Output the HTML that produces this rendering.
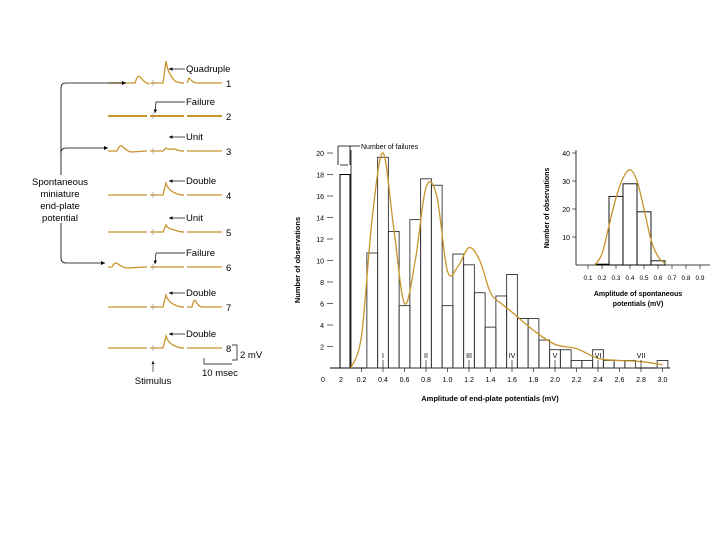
<!DOCTYPE html>
<html><head><meta charset="utf-8"><style>
body{margin:0;background:#fff}
svg{display:block;font-family:"Liberation Sans",sans-serif}
</style></head><body>
<svg width="720" height="540" viewBox="0 0 720 540">
<defs><marker id="ar" viewBox="0 0 6 6" refX="6" refY="3" markerWidth="5" markerHeight="5" orient="auto"><path d="M0,0 L6,3 L0,6 z" fill="#000"/></marker></defs>
<g id="traces"></g>
<g id="main"></g>
<g id="inset"></g>
</svg>
<script>
// main histogram data
const binStarts=[0.25,0.35,0.45,0.55,0.65,0.75,0.85,0.95,1.05,1.15,1.25,1.35,1.45,1.55,1.65,1.75,1.85,1.95,2.05,2.15,2.25,2.35,2.45,2.55,2.65,2.75,2.85,2.95];
const binCounts=[10.7,19.6,12.7,5.8,13.8,17.6,17,5.8,10.6,9.6,7,3.8,6.7,8.7,4.6,4.6,2.6,1.7,1.7,0.7,0.7,1.7,0.7,0.7,0.7,0,0,0.7];
const failures=18;
const curveX=[0.1,0.2,0.3,0.4,0.5,0.6,0.7,0.8,0.9,1.0,1.1,1.2,1.3,1.4,1.5,1.6,1.8,2.0,2.2,2.4,2.6,2.8,3.0];
const curveY=[0,3,14,20,13,6,10,16.8,16,9,9.5,11.2,10,7,6,5.2,3.5,2.2,1.8,0.9,0.7,0.6,0.3];
const xTickVals=[0.2,0.4,0.6,0.8,1.0,1.2,1.4,1.6,1.8,2.0,2.2,2.4,2.6,2.8,3.0];
const yTickVals=[2,4,6,8,10,12,14,16,18,20];
const romans=["I","II","III","IV","V","VI","VII"];
// inset data
const inBinStarts=[0.15,0.25,0.35,0.45,0.55];
const inCounts=[0.3,24.5,29,19,1.5];
const inCurveX=[0.15,0.2,0.25,0.3,0.35,0.4,0.45,0.5,0.55,0.6,0.65];
const inCurveY=[0,4,14,24,31,34,30,20,9,3,0.5];
const inXTicks=[0.1,0.2,0.3,0.4,0.5,0.6,0.7,0.8,0.9];
const inYTicks=[10,20,30,40];

const NS="http://www.w3.org/2000/svg";
function mk(parent,tag,attrs,text){const e=document.createElementNS(NS,tag);for(const k in attrs)e.setAttribute(k,attrs[k]);if(text!==undefined)e.textContent=text;parent.appendChild(e);return e;}
const gold="#c8952c";
function smooth(pts){let d="M"+pts[0][0]+","+pts[0][1];for(let i=0;i<pts.length-1;i++){const p0=pts[i-1]||pts[i],p1=pts[i],p2=pts[i+1],p3=pts[i+2]||p2;d+=" C"+(p1[0]+(p2[0]-p0[0])/6)+","+(p1[1]+(p2[1]-p0[1])/6)+" "+(p2[0]-(p3[0]-p1[0])/6)+","+(p2[1]-(p3[1]-p1[1])/6)+" "+p2[0]+","+p2[1];}return d;}

// ---- main
const M=document.getElementById('main');
const X=v=>340+v*107.5, Y=v=>368-v*10.75;
let e;
e=mk(M,'line',{x1:330,y1:368,x2:670,y2:368,stroke:'#000','stroke-width':1});


e=mk(M,'line',{x1:351,y1:150,x2:351,y2:368,stroke:'#000','stroke-width':0.8});


yTickVals.forEach(v=>{
 e=mk(M,'text',{x:324,y:Y(v)+3,'font-size':7,'text-anchor':'end'},String(v));
 
 
 mk(M,'line',{x1:327,y1:Y(v),x2:333,y2:Y(v),stroke:'#000','stroke-width':0.6});
});
e=mk(M,'text',{x:323,y:382,'font-size':7,'text-anchor':'middle'},'0');


e=mk(M,'text',{x:341,y:382,'font-size':7,'text-anchor':'middle'},'2');


xTickVals.forEach(v=>{
 mk(M,'line',{x1:X(v),y1:368,x2:X(v),y2:372,stroke:'#000','stroke-width':0.6});
 e=mk(M,'text',{x:X(v),y:382,'font-size':7,'text-anchor':'middle'},v.toFixed(1));
 
 
});
e=mk(M,'rect',{x:X(0),y:Y(failures),width:10,height:368-Y(failures),fill:'none',stroke:'#000','stroke-width':1});


mk(M,'path',{d:'M338,146 L338,165 M350,146 L350,165 M338,146 L360,146 M340,165 L348,165',stroke:'#000','stroke-width':0.8,fill:'none'});
e=mk(M,'text',{x:361,y:149,'font-size':7},'Number of failures');


binStarts.forEach((b,i)=>{
 if(binCounts[i]<=0)return;
 e=mk(M,'rect',{x:X(b),y:Y(binCounts[i]),width:10.75,height:368-Y(binCounts[i]),fill:'none',stroke:'#333','stroke-width':0.9});
 
 
});
e=mk(M,'path',{d:smooth(curveX.map((x,i)=>[X(x),Y(curveY[i])])),fill:'none',stroke:gold,'stroke-width':1.3});


romans.forEach((r,i)=>{
 const v=0.4*(i+1);
 e=mk(M,'text',{x:X(v),y:358,'font-size':7,'text-anchor':'middle'},r);
 
 
 mk(M,'line',{x1:X(v),y1:360,x2:X(v),y2:368,stroke:'#000','stroke-width':0.6});
});
e=mk(M,'text',{x:490,y:401,'font-size':7.5,'font-weight':'bold','text-anchor':'middle'},'Amplitude of end-plate potentials (mV)');


e=mk(M,'text',{x:0,y:0,'font-size':7.5,'font-weight':'bold','text-anchor':'middle',transform:'translate(300,260) rotate(-90)'},'Number of observations');



// ---- inset
const I=document.getElementById('inset');
const IX=v=>574+v*140, IY=v=>265-v*2.8;
mk(I,'line',{x1:576,y1:150,x2:576,y2:265,stroke:'#000','stroke-width':0.8});
mk(I,'line',{x1:576,y1:265,x2:710,y2:265,stroke:'#000','stroke-width':0.8});
inYTicks.forEach(v=>{
 mk(I,'line',{x1:572,y1:IY(v),x2:576,y2:IY(v),stroke:'#000','stroke-width':0.6});
 e=mk(I,'text',{x:570,y:IY(v)+3,'font-size':7,'text-anchor':'end'},String(v));
 
 
});
inXTicks.forEach(v=>{
 mk(I,'line',{x1:IX(v),y1:265,x2:IX(v),y2:269,stroke:'#000','stroke-width':0.6});
 e=mk(I,'text',{x:IX(v),y:280,'font-size':6.5,'text-anchor':'middle'},v.toFixed(1));
 
 
});
inBinStarts.forEach((b,i)=>{
 e=mk(I,'rect',{x:IX(b),y:IY(inCounts[i]),width:14,height:265-IY(inCounts[i]),fill:'none',stroke:'#000','stroke-width':0.9});
 
 
});
e=mk(I,'path',{d:smooth(inCurveX.map((x,i)=>[IX(x),IY(inCurveY[i])])),fill:'none',stroke:gold,'stroke-width':1.3});


e=mk(I,'text',{x:638,y:296,'font-size':7,'font-weight':'bold','text-anchor':'middle'},'Amplitude of spontaneous');


e=mk(I,'text',{x:638,y:306,'font-size':7,'font-weight':'bold','text-anchor':'middle'},'potentials (mV)');


e=mk(I,'text',{x:0,y:0,'font-size':7,'font-weight':'bold','text-anchor':'middle',transform:'translate(549,208) rotate(-90)'},'Number of observations');



// ---- traces
const T=document.getElementById('traces');
const rows=[83,116,151,195,232,267,307,348];
const labels=["Quadruple","Failure","Unit","Double","Unit","Failure","Double","Double"];
const amps=[22,0,3,12,7,0,12,12];
const spont=[[135,5],null,[117,4],null,null,[112,3],[192,5],null];
rows.forEach((y,i)=>{
 const a=amps[i];
 let d=`M108,${y} L${spont[i]&&spont[i][0]<150?spont[i][0]:147},${y}`;
 if(spont[i]&&spont[i][0]<150){const s=spont[i][0],h=spont[i][1];d+=` Q${s+3},${y-h*2} ${s+6},${y-h} Q${s+10},${y} ${s+14},${y+1} L147,${y}`;}
 d+=` M150,${y} L163,${y}`;
 if(a>0){d+=` L166,${y-a} Q168,${y-a+a*0.6} 175,${y-2} Q179,${y} 184,${y}`;}else d+=` L184,${y}`;
 d+=` M187,${y}`;
 if(spont[i]&&spont[i][0]>150){const s=spont[i][0],h=spont[i][1];d+=` L${s},${y} Q${s+2},${y-h*2} ${s+4},${y-h} Q${s+7},${y} ${s+10},${y}`;}
 else if(i===0){d+=` L189,${y-5} Q193,${y} 197,${y}`;}
 d+=` L222,${y}`;
 e=mk(T,'path',{d:d,fill:'none',stroke:gold,'stroke-width':i===1?2:1.3});
 
 
 mk(T,'line',{x1:153,y1:y-3,x2:153,y2:y+3,stroke:'#888','stroke-width':0.6});
 const ly=y-14;
 e=mk(T,'text',{x:186,y:ly+3,'font-size':9.5},labels[i]);
 
 
 mk(T,'path',{d:a>0?`M185,${ly} L${169},${ly}`:`M185,${ly} L156,${ly} L155,${y-3}`,fill:'none',stroke:'#000','stroke-width':0.7,'marker-end':'url(#ar)'});
 e=mk(T,'text',{x:226,y:y+4,'font-size':9.5},String(i+1));
 
 
});
mk(T,'path',{d:'M61,258 L61,88 Q61,83 66,83 L126,83',fill:'none',stroke:'#000','stroke-width':0.8,'marker-end':'url(#ar)'});
mk(T,'path',{d:'M61,153 Q61,148 66,148 L108,148',fill:'none',stroke:'#000','stroke-width':0.8,'marker-end':'url(#ar)'});
mk(T,'path',{d:'M61,258 Q61,263 66,263 L105,263',fill:'none',stroke:'#000','stroke-width':0.8,'marker-end':'url(#ar)'});
['Spontaneous','miniature','end-plate','potential'].forEach((t,i)=>{
 mk(T,'rect',{x:25,y:175+i*12,width:70,height:12,fill:'#fff'});
 e=mk(T,'text',{x:60,y:185+i*12,'font-size':9.5,'text-anchor':'middle'},t);
 
 
});
mk(T,'path',{d:'M232,345 L237,345 L237,360 L232,360 M204,358 L204,364 L232,364',fill:'none',stroke:'#000','stroke-width':0.7});
mk(T,'path',{d:'M153,372 L153,361',fill:'none',stroke:'#000','stroke-width':0.6,'marker-end':'url(#ar)'});
e=mk(T,'text',{x:240,y:358,'font-size':9.5},'2 mV');


e=mk(T,'text',{x:202,y:376,'font-size':9.5},'10 msec');


e=mk(T,'text',{x:153,y:384,'font-size':9.5,'text-anchor':'middle'},'Stimulus');


</script>
</body></html>
